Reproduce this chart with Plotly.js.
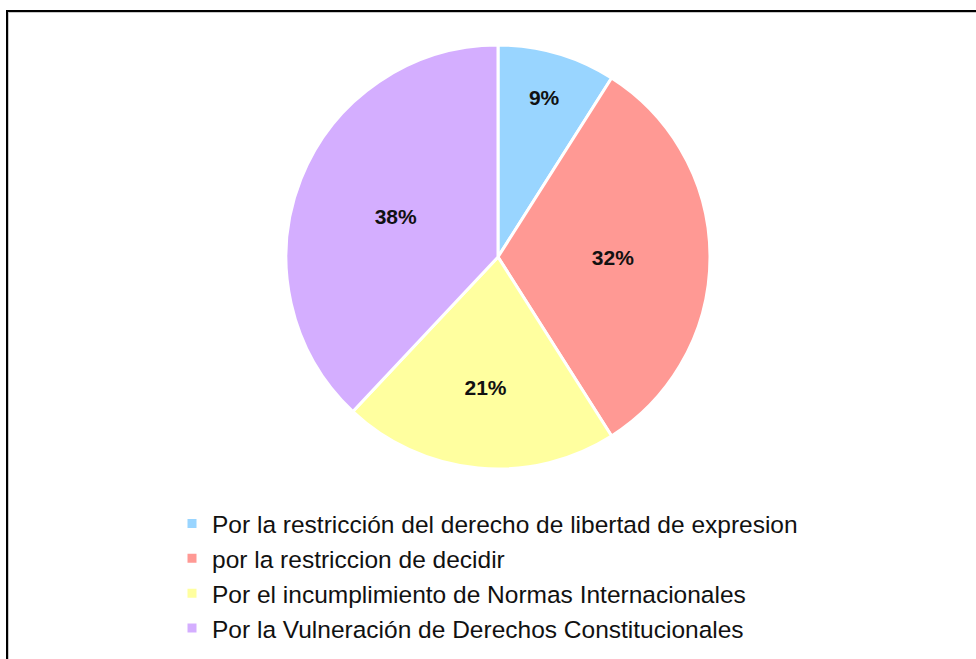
<!DOCTYPE html>
<html>
<head>
<meta charset="utf-8">
<script src="https://cdn.plot.ly/plotly-3.0.1.min.js"></script>
<style>
  html, body { margin:0; padding:0; background:#ffffff; }
  #wrap { position:relative; width:976px; height:659px; overflow:hidden; background:#fff; }
  #chart { position:absolute; left:0; top:0; width:976px; height:659px; }
  #frame { position:absolute; left:6px; top:10px; width:1000px; height:700px;
           border-left:2px solid #000; border-top:2px solid #000; pointer-events:none;
           box-shadow: inset 1px 1px 0 #c8c8c8; }
</style>
</head>
<body>
<div id="wrap">
  <div id="chart"></div>
  <div id="frame"></div>
</div>
<script>
const categories = [
  "Por la restricción del derecho de libertad de expresion",
  "por la restriccion de decidir",
  "Por el incumplimiento de Normas Internacionales",
  "Por la Vulneración de Derechos Constitucionales"
];
const values = [9, 32, 21, 38];
const colors = ["#99D5FF", "#FF9994", "#FFFF9F", "#D4AEFF"];

const W = 976, H = 659;
const cx = 498, cy = 257, r = 212;

const data = [{
  type: "pie",
  labels: categories,
  values: values,
  sort: false,
  direction: "clockwise",
  rotation: 0,
  marker: { colors: colors, line: { color: "#ffffff", width: 3 } },
  textinfo: "percent",
  textposition: "inside",
  insidetextorientation: "horizontal",
  textfont: { family: "Liberation Sans, Arial, sans-serif", size: 21, color: "#111111", weight: "bold" },
  domain: { x: [(cx - r) / W, (cx + r) / W], y: [1 - (cy + r) / H, 1 - (cy - r) / H] },
  hoverinfo: "label+percent"
}];

const layout = {
  width: W, height: H,
  margin: { l: 0, r: 0, t: 0, b: 0 },
  paper_bgcolor: "#ffffff",
  plot_bgcolor: "#ffffff",
  showlegend: true,
  legend: {
    x: 172 / W, y: 1 - 501 / H, xanchor: "left", yanchor: "top",
    orientation: "v",
    font: { family: "Liberation Sans, Arial, sans-serif", size: 24.5, color: "#111111" },
    bgcolor: "rgba(0,0,0,0)",
    traceorder: "normal"
  }
};

Plotly.newPlot("chart", data, layout, { displayModeBar: false, staticPlot: true });
</script>
</body>
</html>
